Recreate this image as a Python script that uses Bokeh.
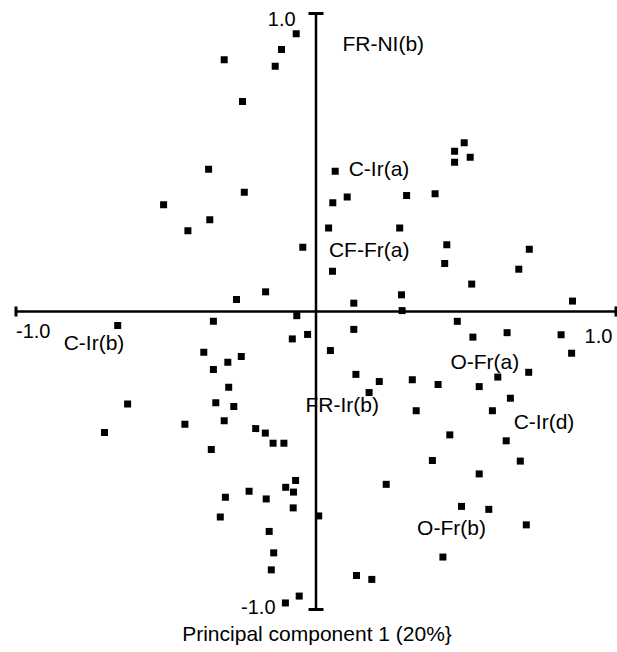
from bokeh.plotting import figure
from bokeh.models import ColumnDataSource, Range1d
from bokeh.core.properties import value
from bokeh.embed import file_html
from bokeh.resources import INLINE

# ---- data (principal component scores) ----
pc1 = [-0.066, -0.115, -0.306, -0.136, -0.245, -0.358, -0.239, -0.508, -0.354, -0.427,
       -0.044, -0.168, -0.265, -0.064, -0.342, -0.661, 0.494, 0.462, 0.514, 0.462,
       0.064, 0.104, 0.056, 0.302, 0.397, 0.042, 0.279, 0.436, 0.711, 0.055,
       0.429, 0.676, 0.519, 0.126, 0.285, 0.287, 0.855, 0.471, 0.126, 0.637,
       -0.079, -0.028, -0.374, -0.294, -0.249, -0.342, -0.291, -0.628, -0.334, -0.274,
       -0.705, -0.437, -0.306, -0.201, -0.169, -0.143, -0.107, -0.349, -0.068, -0.101,
       -0.075, -0.223, -0.302, -0.166, -0.076, -0.319, -0.156, -0.141, -0.149, -0.102,
       -0.056, 0.009, 0.523, 0.817, 0.852, 0.048, 0.133, 0.211, 0.321, 0.407,
       0.544, 0.606, 0.709, 0.177, 0.648, 0.334, 0.588, 0.446, 0.634, 0.388,
       0.681, 0.544, 0.234, 0.485, 0.576, 0.701, 0.423, 0.135, 0.186]
pc2 = [0.932, 0.879, 0.845, 0.823, 0.705, 0.477, 0.400, 0.358, 0.308, 0.271,
       0.216, 0.066, 0.040, -0.014, -0.033, -0.047, 0.566, 0.538, 0.518, 0.501,
       0.471, 0.384, 0.365, 0.389, 0.395, 0.280, 0.280, 0.224, 0.209, 0.135,
       0.161, 0.142, 0.092, 0.028, 0.056, 0.003, 0.035, -0.033, -0.060, -0.071,
       -0.092, -0.077, -0.137, -0.170, -0.151, -0.195, -0.254, -0.310, -0.306, -0.319,
       -0.406, -0.378, -0.367, -0.393, -0.408, -0.442, -0.442, -0.463, -0.567, -0.590,
       -0.606, -0.603, -0.623, -0.629, -0.659, -0.690, -0.738, -0.810, -0.867, -0.978,
       -0.955, -0.686, -0.086, -0.078, -0.140, -0.131, -0.211, -0.235, -0.229, -0.245,
       -0.252, -0.220, -0.204, -0.272, -0.291, -0.333, -0.333, -0.414, -0.434, -0.500,
       -0.502, -0.545, -0.580, -0.654, -0.664, -0.716, -0.824, -0.886, -0.899]

group_labels = ["FR-NI(b)", "C-Ir(a)", "CF-Fr(a)", "C-Ir(b)", "FR-Ir(b)",
                "O-Fr(a)", "C-Ir(d)", "O-Fr(b)"]
group_x = [0.088, 0.109, 0.043, -0.841, -0.035, 0.448, 0.659, 0.337]
group_y = [0.901, 0.480, 0.208, -0.104, -0.312, -0.168, -0.369, -0.725]

axis_min = -1.0
axis_max = 1.0
tick_labels = ["-1.0", "1.0"]
x_title = "Principal component 1 (20%}"

FONT = "Liberation Sans"

p = figure(width=617, height=652, output_backend="svg", toolbar_location=None,
           x_range=Range1d(-1.05167, 1.005), y_range=Range1d(-1.1443, 1.04362),
           min_border=0, min_border_left=0, min_border_right=0,
           min_border_top=0, min_border_bottom=0)
p.axis.visible = False
p.grid.visible = False
p.outline_line_color = None
p.background_fill_color = "white"
p.border_fill_color = "white"

# axes crossing at the origin
p.segment(x0=[axis_min, 0], y0=[0, axis_min], x1=[axis_max, 0], y1=[0, axis_max],
          line_color="black", line_width=2.5)
# end ticks of the horizontal axis
p.segment(x0=[axis_min, axis_max], y0=[-0.017, -0.017], x1=[axis_min, axis_max], y1=[0.017, 0.017],
          line_color="black", line_width=3)
# end ticks of the vertical axis
p.segment(x0=[-0.025, -0.025], y0=[axis_min, axis_max], x1=[0.025, 0.025], y1=[axis_min, axis_max],
          line_color="black", line_width=3)

# points
src = ColumnDataSource(dict(x=pc1, y=pc2))
p.scatter("x", "y", source=src, marker="square", size=7, fill_color="black", line_color=None)

# group labels
lab = ColumnDataSource(dict(x=group_x, y=group_y, t=group_labels))
p.text("x", "y", text="t", source=lab, text_font=value(FONT), text_font_size="21px",
       text_align="left", text_baseline="middle", text_color="black")

# tick labels
p.text(x=[axis_min], y=[-0.064], text=[tick_labels[0]], text_font=value(FONT), text_font_size="20px",
       text_align="left", text_baseline="middle", text_color="black")
p.text(x=[0.988], y=[-0.081], text=[tick_labels[1]], text_font=value(FONT), text_font_size="20px",
       text_align="right", text_baseline="middle", text_color="black")
p.text(x=[-0.068], y=[0.980], text=[tick_labels[1]], text_font=value(FONT), text_font_size="20px",
       text_align="right", text_baseline="middle", text_color="black")
p.text(x=[-0.135], y=[-0.990], text=[tick_labels[0]], text_font=value(FONT), text_font_size="20px",
       text_align="right", text_baseline="middle", text_color="black")

# axis title
p.text(x=[-0.446], y=[-1.08], text=[x_title], text_font=value(FONT), text_font_size="21px",
       text_align="left", text_baseline="middle", text_color="black")

open("out.html", "w").write(file_html(p, INLINE))
